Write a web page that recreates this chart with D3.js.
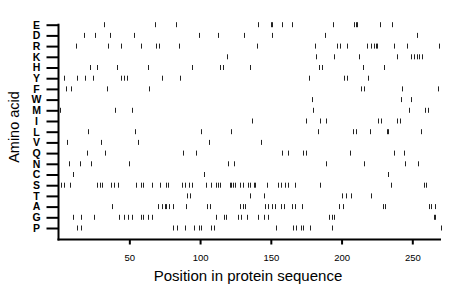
<!DOCTYPE html>
<html>
<head>
<meta charset="utf-8">
<script src="https://cdn.jsdelivr.net/npm/d3@7"></script>
<style>
  body { margin: 0; background: #fff; }
  text { font-family: "Liberation Sans", Arial, sans-serif; }
</style>
</head>
<body>
<div id="chart"></div>
<script>
// amino acids, top to bottom
const aminoAcids = ["E","D","R","K","H","Y","F","W","M","I","L","V","Q","N","C","S","T","A","G","P"];

// positions in the sequence where each residue occurs
const posE = [32, 68, 83, 141, 150, 151, 158, 165, 194, 209, 210, 211, 227, 236];
const posD = [18, 26, 36, 53, 99, 113, 131, 151, 188, 253];
const posR = [12, 35, 44, 58, 69, 71, 85, 140, 181, 197, 199, 204, 218, 221, 223, 224, 225, 237, 246, 269];
const posK = [119, 182, 195, 212, 239, 249, 251, 253, 255, 257];
const posH = [22, 27, 41, 63, 94, 114, 116, 135, 184, 186, 215, 230];
const posY = [4, 13, 19, 24, 44, 46, 48, 73, 86, 177, 202, 204, 219];
const posF = [5, 9, 34, 64, 214, 216, 243, 268];
const posW = [179, 242, 249];
const posM = [1, 40, 52, 180, 248, 259, 261];
const posI = [137, 175, 185, 189, 226, 228, 239, 241];
const posL = [21, 54, 101, 122, 183, 208, 210, 220, 232, 233, 256];
const posV = [6, 30, 56, 106, 143];
const posQ = [20, 33, 88, 97, 158, 162, 173, 175, 206, 237, 244];
const posN = [7, 15, 23, 50, 120, 124, 189, 216, 245, 254];
const posC = [10, 103, 233];
const posS = [2, 4, 8, 27, 29, 31, 37, 39, 42, 55, 58, 60, 66, 72, 76, 77, 87, 89, 92, 94, 104, 108, 111, 113, 114,
              121, 122, 123, 125, 128, 130, 134, 135, 138, 139, 147, 155, 157, 160, 162, 167, 185, 235, 258, 260];
const posT = [91, 93, 135, 145, 200, 203, 207, 221];
const posA = [38, 70, 73, 75, 76, 78, 81, 90, 105, 107, 128, 130, 132, 146, 148, 151, 153, 157, 159, 165, 167, 172,
              198, 201, 229, 231, 262, 263, 266];
const posG = [10, 16, 25, 43, 46, 49, 52, 58, 60, 63, 66, 111, 117, 118, 127, 129, 133, 141, 145, 148, 191, 193, 195, 265, 266];
const posP = [13, 16, 81, 84, 89, 96, 99, 101, 108, 110, 154, 166, 168, 171, 173, 178, 193, 270];

const xTicks = [50, 100, 150, 200, 250];
const seqLength = 270;

const positions = {E: posE, D: posD, R: posR, K: posK, H: posH, Y: posY, F: posF, W: posW, M: posM, I: posI,
                   L: posL, V: posV, Q: posQ, N: posN, C: posC, S: posS, T: posT, A: posA, G: posG, P: posP};

const marks = [];
aminoAcids.forEach(aa => positions[aa].forEach(p => marks.push({aa: aa, pos: p})));

const width = 460;
const height = 299;

const svg = d3.select("#chart")
  .append("svg")
  .attr("width", width)
  .attr("height", height);

const x = d3.scaleLinear().domain([0, seqLength]).range([58.6, 440.6]);
const y = d3.scalePoint().domain(aminoAcids).range([24.7, 228]);

const axisY = 239.5;

// residue marks
svg.append("g")
  .selectAll("line")
  .data(marks)
  .enter()
  .append("line")
  .attr("x1", d => Math.round(x(d.pos)) + 0.5)
  .attr("x2", d => Math.round(x(d.pos)) + 0.5)
  .attr("y1", d => y(d.aa) - 2.5)
  .attr("y2", d => y(d.aa) + 2.5)
  .attr("stroke", "#222")
  .attr("stroke-width", 1);

// y axis
const gy = svg.append("g")
  .attr("transform", "translate(58.5,0)")
  .call(d3.axisLeft(y).tickSize(12).tickSizeOuter(0).tickPadding(7));
gy.select(".domain").remove();
gy.selectAll(".tick line").attr("stroke", "#000").attr("stroke-width", 2);
gy.selectAll(".tick text")
  .attr("font-size", 10.5)
  .attr("font-weight", "bold")
  .attr("fill", "#000")
  .attr("text-anchor", "middle")
  .attr("x", -22);

svg.append("line")
  .attr("x1", 58.5).attr("x2", 58.5)
  .attr("y1", y("E") - 1).attr("y2", axisY + 1)
  .attr("stroke", "#000").attr("stroke-width", 2);

// x axis
const gx = svg.append("g")
  .attr("transform", `translate(0,${axisY})`)
  .call(d3.axisBottom(x).tickValues(xTicks).tickSize(5).tickSizeOuter(0).tickPadding(10));
gx.select(".domain").remove();
gx.selectAll(".tick line").attr("stroke", "#000").attr("stroke-width", 2);
gx.selectAll(".tick text").attr("font-size", 9.5).attr("fill", "#000");

svg.append("line")
  .attr("x1", 57.5).attr("x2", 441)
  .attr("y1", axisY).attr("y2", axisY)
  .attr("stroke", "#000").attr("stroke-width", 2);

// titles
svg.append("text")
  .attr("x", 248)
  .attr("y", 281)
  .attr("text-anchor", "middle")
  .attr("font-size", 15)
  .text("Position in protein sequence");

svg.append("text")
  .attr("transform", "translate(19,127) rotate(-90)")
  .attr("text-anchor", "middle")
  .attr("font-size", 14.5)
  .text("Amino acid");
</script>
</body>
</html>
